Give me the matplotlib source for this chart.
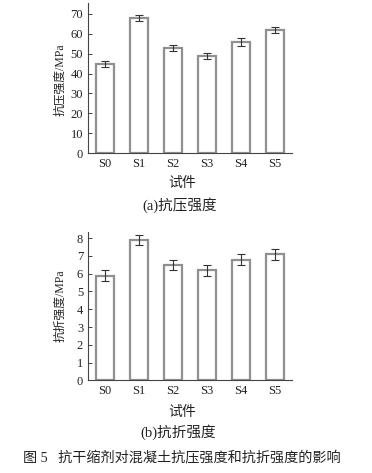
import matplotlib
matplotlib.use("Agg")
import matplotlib.pyplot as plt
import numpy as np

categories = ["S0", "S1", "S2", "S3", "S4", "S5"]
compressive = [45, 68, 53, 49, 56, 62]
compressive_err = [1.5, 1.5, 1.5, 1.5, 2.0, 1.5]
flexural = [5.9, 7.9, 6.5, 6.2, 6.8, 7.1]
flexural_err = [0.3, 0.3, 0.3, 0.3, 0.3, 0.3]
yticks_a = [0, 10, 20, 30, 40, 50, 60, 70]
yticks_b = [0, 1, 2, 3, 4, 5, 6, 7, 8]

FAM = ["Liberation Serif", "Noto Sans CJK SC"]
plt.rcParams["font.family"] = FAM

W, H = 372, 473
fig = plt.figure(figsize=(W / 100, H / 100), dpi=100)
fig.patch.set_facecolor("white")

BAR_EC = "#909090"
AX_C = "#444444"


def make_panel(rect, values, errs, ylim, yticks, ylabel, label_y):
    ax = fig.add_axes(rect)
    x = np.arange(len(categories))
    ax.bar(x, values, width=0.52, color="white", edgecolor=BAR_EC, linewidth=1.6, zorder=2)
    ax.errorbar(x, values, yerr=errs, fmt="none", ecolor="#333333", elinewidth=0.8,
                capsize=2.8, capthick=0.8, zorder=3)
    ax.set_xlim(-0.5, 5.5)
    ax.set_ylim(*ylim)
    ax.set_xticks(x)
    ax.set_xticklabels(categories)
    ax.set_yticks(yticks)
    for s in ["top", "right"]:
        ax.spines[s].set_visible(False)
    for s in ["left", "bottom"]:
        ax.spines[s].set_color(AX_C)
        ax.spines[s].set_linewidth(0.8)
        ax.spines[s].set_zorder(4)
    ax.tick_params(direction="in", length=3, width=0.7, color=AX_C, labelsize=9,
                   labelcolor="#222222", pad=3.5)
    fig.text(60 / W, 1 - label_y / H, ylabel, rotation=90, ha="center", va="center",
             fontsize=8.5, color="#222222", family=FAM)
    return ax


make_panel([88 / W, 1 - 153.3 / H, 204 / W, 150.3 / H], compressive, compressive_err,
           (0, 75.4), yticks_a, "抗压强度/MPa", 80)
make_panel([88 / W, 1 - 380.3 / H, 204 / W, 148.3 / H], flexural, flexural_err,
           (0, 8.35), yticks_b, "抗折强度/MPa", 306)

txt = dict(ha="center", va="center", color="#222222", family=FAM)
fig.text(182 / W, 1 - 183 / H, "试件", fontsize=10, **txt)
fig.text(180 / W, 1 - 205 / H, "(a)抗压强度", fontsize=10.5, **txt)
fig.text(182 / W, 1 - 412 / H, "试件", fontsize=10, **txt)
fig.text(178 / W, 1 - 432 / H, "(b)抗折强度", fontsize=10.5, **txt)
fig.text(182 / W, 1 - 457 / H, "图 5   抗干缩剂对混凝土抗压强度和抗折强度的影响", fontsize=10.2, **txt)

fig.savefig("out.png", dpi=100, facecolor="white")
